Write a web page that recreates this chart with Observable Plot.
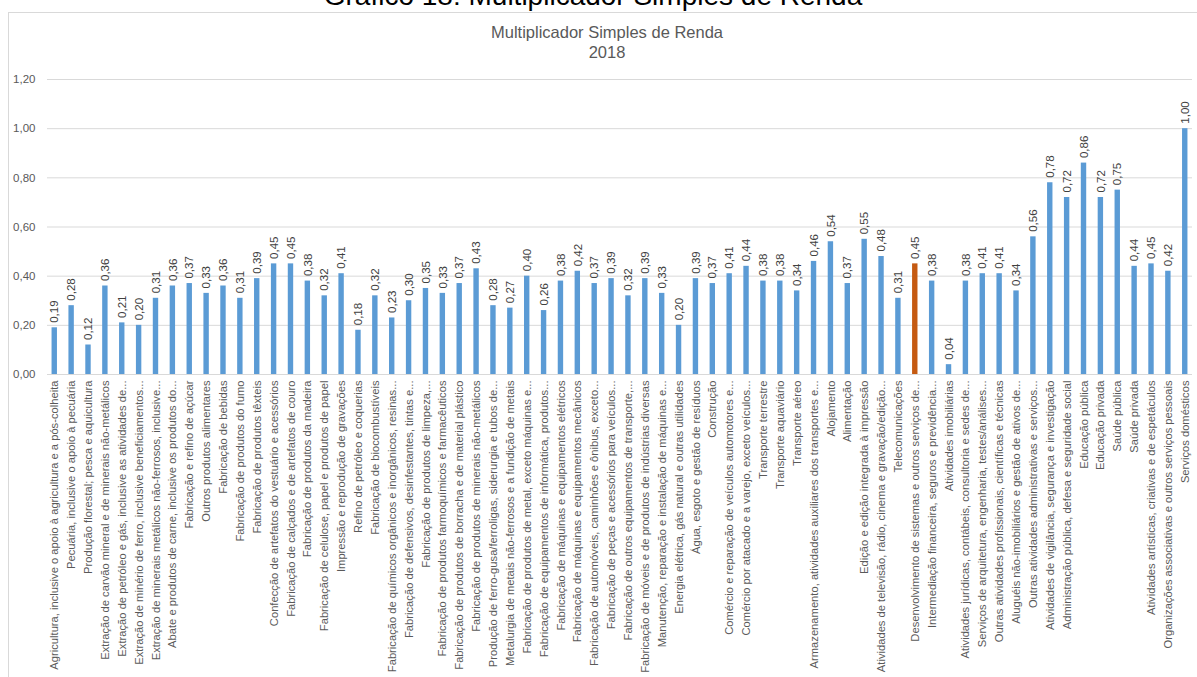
<!DOCTYPE html>
<html>
<head>
<meta charset="utf-8">
<script src="https://cdn.jsdelivr.net/npm/d3@7"></script>
<script src="https://cdn.jsdelivr.net/npm/@observablehq/plot@0.6"></script>
<style>
  html, body { margin: 0; padding: 0; background: #fff; overflow: hidden; }
  #wrap { position: relative; width: 1197px; height: 677px; overflow: hidden; }
  #frame { position: absolute; left: 8px; top: 12px; width: 1200px; height: 700px; border: 1px solid #d9d9d9; box-sizing: border-box; }
  #chart { position: absolute; left: 0; top: 0; }
  svg { font-family: "Liberation Sans", Arial, sans-serif; }
</style>
</head>
<body>
<div id="wrap">
  <div id="frame"></div>
  <div id="chart"></div>
</div>
<script>
const mainTitle = "Gráfico 18: Multiplicador Simples de Renda";
const chartTitle = "Multiplicador Simples de Renda";
const chartYear = "2018";

const sectors = [
  "Agricultura, inclusive o apoio à agricultura e a pós-colheita",
  "Pecuária, inclusive o apoio à pecuária",
  "Produção florestal; pesca e aquicultura",
  "Extração de carvão mineral e de minerais não-metálicos",
  "Extração de petróleo e gás, inclusive as atividades de...",
  "Extração de minério de ferro, inclusive beneficiamentos...",
  "Extração de minerais metálicos não-ferrosos, inclusive...",
  "Abate e produtos de carne, inclusive os produtos do...",
  "Fabricação e refino de açúcar",
  "Outros produtos alimentares",
  "Fabricação de bebidas",
  "Fabricação de produtos do fumo",
  "Fabricação de produtos têxteis",
  "Confecção de artefatos do vestuário e acessórios",
  "Fabricação de calçados e de artefatos de couro",
  "Fabricação de produtos da madeira",
  "Fabricação de celulose, papel e produtos de papel",
  "Impressão e reprodução de gravações",
  "Refino de petróleo e coquerias",
  "Fabricação de biocombustíveis",
  "Fabricação de químicos orgânicos e inorgânicos, resinas...",
  "Fabricação de defensivos, desinfestantes, tintas e...",
  "Fabricação de produtos de limpeza,...",
  "Fabricação de produtos farmoquímicos e farmacêuticos",
  "Fabricação de produtos de borracha e de material plástico",
  "Fabricação de produtos de minerais não-metálicos",
  "Produção de ferro-gusa/ferroligas, siderurgia e tubos de...",
  "Metalurgia de metais não-ferrosos e a fundição de metais",
  "Fabricação de produtos de metal, exceto máquinas e...",
  "Fabricação de equipamentos de informática, produtos...",
  "Fabricação de máquinas e equipamentos elétricos",
  "Fabricação de máquinas e equipamentos mecânicos",
  "Fabricação de automóveis, caminhões e ônibus, exceto...",
  "Fabricação de peças e acessórios para veículos...",
  "Fabricação de outros equipamentos de transporte,...",
  "Fabricação de móveis e de produtos de indústrias diversas",
  "Manutenção, reparação e instalação de máquinas e...",
  "Energia elétrica, gás natural e outras utilidades",
  "Água, esgoto e gestão de resíduos",
  "Construção",
  "Comércio e reparação de veículos automotores e...",
  "Comércio por atacado e a varejo, exceto veículos...",
  "Transporte terrestre",
  "Transporte aquaviário",
  "Transporte aéreo",
  "Armazenamento, atividades auxiliares dos transportes e...",
  "Alojamento",
  "Alimentação",
  "Edição e edição integrada à impressão",
  "Atividades de televisão, rádio, cinema e gravação/edição...",
  "Telecomunicações",
  "Desenvolvimento de sistemas e outros serviços de...",
  "Intermediação financeira, seguros e previdência...",
  "Atividades imobiliárias",
  "Atividades jurídicas, contábeis, consultoria e sedes de...",
  "Serviços de arquitetura, engenharia, testes/análises...",
  "Outras atividades profissionais, científicas e técnicas",
  "Aluguéis não-imobiliários e gestão de ativos de...",
  "Outras atividades administrativas e serviços...",
  "Atividades de vigilância, segurança e investigação",
  "Administração pública, defesa e seguridade social",
  "Educação pública",
  "Educação privada",
  "Saúde pública",
  "Saúde privada",
  "Atividades artísticas, criativas e de espetáculos",
  "Organizações associativas e outros serviços pessoais",
  "Serviços domésticos"
];

const multiplier = [
  0.19, 0.28, 0.12, 0.36, 0.21, 0.20, 0.31, 0.36, 0.37, 0.33,
  0.36, 0.31, 0.39, 0.45, 0.45, 0.38, 0.32, 0.41, 0.18, 0.32,
  0.23, 0.30, 0.35, 0.33, 0.37, 0.43, 0.28, 0.27, 0.40, 0.26,
  0.38, 0.42, 0.37, 0.39, 0.32, 0.39, 0.33, 0.20, 0.39, 0.37,
  0.41, 0.44, 0.38, 0.38, 0.34, 0.46, 0.54, 0.37, 0.55, 0.48,
  0.31, 0.45, 0.38, 0.04, 0.38, 0.41, 0.41, 0.34, 0.56, 0.78,
  0.72, 0.86, 0.72, 0.75, 0.44, 0.45, 0.42, 1.00
];

const highlighted = "Desenvolvimento de sistemas e outros serviços de...";
const yTicks = [0, 0.2, 0.4, 0.6, 0.8, 1.0, 1.2];

const data = sectors.map((s, i) => ({sector: s, value: multiplier[i], hl: s === highlighted}));
const fmt = v => v.toFixed(2).replace(".", ",");

const chart = Plot.plot({
  width: 1197,
  height: 677,
  marginTop: 79,
  marginBottom: 303,
  marginLeft: 47,
  marginRight: 5,
  style: {fontFamily: "'Liberation Sans', Arial, sans-serif", background: "transparent", overflow: "visible"},
  x: {domain: sectors, paddingInner: 0.68, paddingOuter: 0.27},
  y: {domain: [0, 1.2]},
  marks: [
    Plot.gridY(yTicks, {stroke: "#d9d9d9", strokeOpacity: 1}),
    Plot.axisY(yTicks, {tickSize: 0, tickPadding: 12, tickFormat: fmt, fontSize: 11.5, fill: "#595959", label: null}),
    Plot.barY(data, {x: "sector", y: "value", fill: d => d.hl ? "#C55A11" : "#5B9BD5"}),
    Plot.ruleY([0], {stroke: "#d9d9d9"}),
    Plot.axisX({tickSize: 0, tickPadding: 6, tickRotate: -90, fontSize: 11.2, fill: "#595959", label: null}),
    Plot.text(data, {x: "sector", y: "value", text: d => fmt(d.value), rotate: -90, textAnchor: "start", lineAnchor: "middle", dy: -5, fontSize: 11.5, fill: "#404040"}),
    Plot.text([mainTitle], {frameAnchor: "top", dx: -27, dy: -75, lineAnchor: "bottom", fontSize: 28, fill: "#000"}),
    Plot.text([chartTitle], {frameAnchor: "top", dx: -13, dy: -47, lineAnchor: "middle", fontSize: 16.5, fill: "#595959"}),
    Plot.text([chartYear], {frameAnchor: "top", dx: -13, dy: -27, lineAnchor: "middle", fontSize: 16.5, fill: "#595959"})
  ]
});
document.getElementById("chart").appendChild(chart);
</script>
</body>
</html>
